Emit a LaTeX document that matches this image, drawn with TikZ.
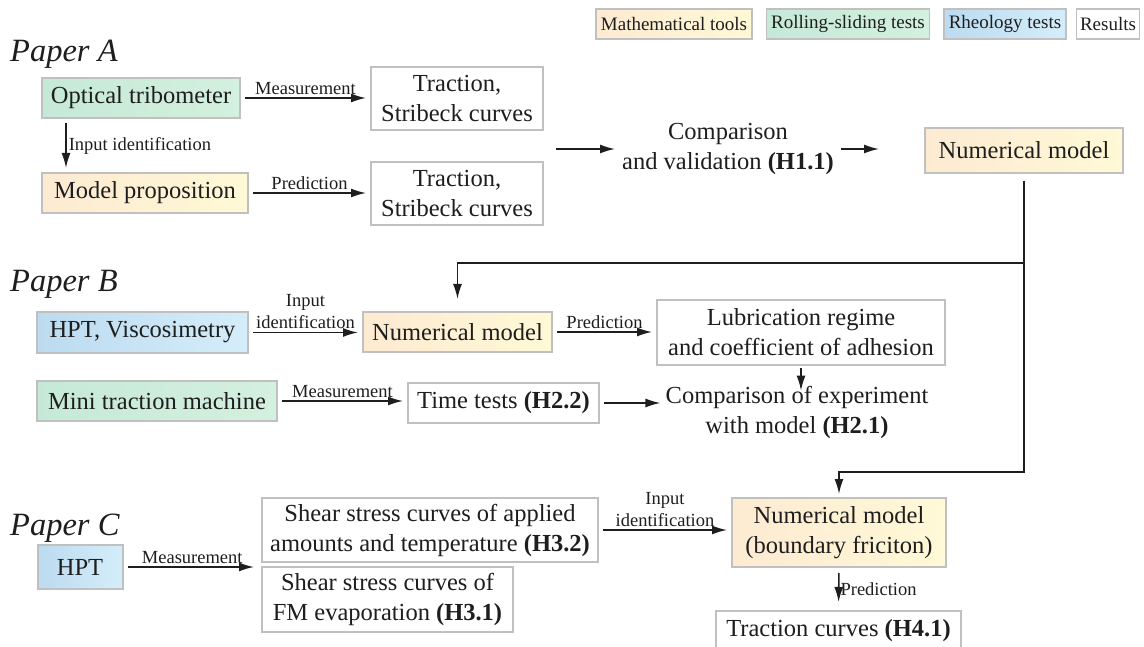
\documentclass[tikz,border=0pt]{standalone}
\usepackage{fontspec}
\setmainfont{Liberation Serif}
\usepackage{tikz}
\usetikzlibrary{arrows.meta,calc}
\usepackage{xcolor}
\definecolor{mathL}{RGB}{253,234,210}
\definecolor{mathR}{RGB}{255,249,214}
\definecolor{rollL}{RGB}{198,233,215}
\definecolor{rollR}{RGB}{212,240,222}
\definecolor{rheoL}{RGB}{188,219,240}
\definecolor{rheoR}{RGB}{212,237,249}
\definecolor{edgegrey}{RGB}{192,192,192}
\definecolor{ink}{RGB}{30,30,30}
\newcommand{\bxfont}{\fontsize{24.5}{30}\selectfont}
\newcommand{\lbfont}{\fontsize{18.5}{22}\selectfont}
\newcommand{\lgfont}{\fontsize{19}{22}\selectfont}
\newcommand{\ppfont}{\fontsize{32.5}{36}\selectfont\itshape}

\begin{document}
\begin{tikzpicture}[
  x=1pt,y=-1pt,
  box/.style={rectangle,draw=edgegrey,line width=2pt,text=ink,font=\bxfont,align=center,inner sep=0pt},
  mathbox/.style={box,left color=mathL,right color=mathR},
  rollbox/.style={box,left color=rollL,right color=rollR},
  rheobox/.style={box,left color=rheoL,right color=rheoR},
  resbox/.style={box,fill=white},
  keybox/.style={font=\lgfont,line width=1.6pt,minimum height=30pt},
  plain/.style={text=ink,font=\bxfont,align=center,inner sep=3pt},
  lab/.style={text=ink,font=\lbfont,align=center,inner sep=3pt},
  paper/.style={text=ink,font=\ppfont,anchor=base west,inner sep=0pt},
  arr/.style={draw=ink,line width=1.6pt,-{Latex[length=15pt,width=9pt]},shorten <=4pt,shorten >=4pt}
]
\useasboundingbox (0,0) rectangle (1144,647);

\node[mathbox,keybox,minimum width=156pt] (kmath) at (674,24) {Mathematical tools};
\node[rollbox,keybox,minimum width=163pt] (kroll) at (848,24) {Rolling-sliding tests};
\node[rheobox,keybox,minimum width=122pt] (krheo) at (1005,24) {Rheology tests};
\node[resbox,keybox,minimum width=63pt] (kres) at (1108,24) {Results};

\node[paper] (pA) at (10,62) {Paper A};
\node[rollbox,minimum width=198pt,minimum height=40pt] (opt) at (141,98) {Optical tribometer};
\node[mathbox,minimum width=206pt,minimum height=40pt] (model) at (145,193) {Model proposition};
\node[resbox,minimum width=172pt,minimum height=63pt] (tracA1) at (457,98.5) {Traction,\\Stribeck curves};
\node[resbox,minimum width=172pt,minimum height=63pt] (tracA2) at (457,193.5) {Traction,\\Stribeck curves};
\node[plain] (compA) at (728,149) {Comparison\\and validation \textbf{(H1.1)}};
\node[mathbox,minimum width=198pt,minimum height=45pt] (numA) at (1024,150.5) {Numerical model};
\coordinate (cmpin) at (556,149);
\coordinate (fbB) at (1025,263);
\coordinate (fbC) at (1025,472);

\draw[arr] (opt.east) -- (opt.east -| tracA1.west) node[lab,midway,above] {Measurement};
\draw[arr] (model.east) -- (model.east -| tracA2.west) node[lab,midway,above] {Prediction};
\draw[arr] ([xshift=25pt]opt.south west) -- ([xshift=25pt]model.north west) node[lab,midway,right,inner sep=2pt] {Input identification};
\draw[arr,shorten <=0pt] (cmpin) -- (compA.west);
\draw[arr,shorten >=45pt] (compA.east) -- (compA.east -| numA.west);

\node[paper] (pB) at (10,292) {Paper B};
\node[rheobox,minimum width=211pt,minimum height=41pt] (hptv) at (142.5,332.5) {HPT, Viscosimetry};
\node[mathbox,minimum width=189pt,minimum height=40pt] (numB) at (457.5,332) {Numerical model};
\node[resbox,minimum width=288pt,minimum height=65pt] (lubr) at (801,332.5) {Lubrication regime\\and coefficient of adhesion};
\node[rollbox,minimum width=240pt,minimum height=40pt] (mtm) at (157,401) {Mini traction machine};
\node[resbox,minimum width=191pt,minimum height=40pt] (timet) at (503.5,403) {Time tests \textbf{(H2.2)}};
\node[plain,inner sep=1pt] (compB) at (797,412) {Comparison of experiment\\with model \textbf{(H2.1)}};

\draw[arr] (hptv.east) -- (hptv.east -| numB.west) node[lab,midway,above] {Input\\identification};
\draw[arr] (numB.east) -- (numB.east -| lubr.west) node[lab,midway,above] {Prediction};
\draw[arr] (mtm.east) -- (mtm.east -| timet.west) node[lab,midway,above] {Measurement};
\draw[arr] (timet.east) -- (timet.east -| compB.west);
\draw[arr,shorten <=2pt,shorten >=0pt] (lubr.south) -- ([yshift=-6pt]lubr.south |- compB.north);

\node[paper] (pC) at (10,535) {Paper C};
\node[rheobox,minimum width=85pt,minimum height=44pt] (hptC) at (80,567) {HPT};
\node[resbox,minimum width=336pt,minimum height=64pt] (shear1) at (430,530) {Shear stress curves of applied\\amounts and temperature \textbf{(H3.2)}};
\node[resbox,minimum width=251pt,minimum height=65pt] (shear2) at (387.5,599.5) {Shear stress curves of\\FM evaporation \textbf{(H3.1)}};
\node[mathbox,minimum width=214pt,minimum height=69pt] (numC) at (839,532.5) {Numerical model\\(boundary friciton)};
\node[resbox,minimum width=245pt,minimum height=40pt] (tracC) at (838.5,631) {Traction curves \textbf{(H4.1)}};

\draw[arr,shorten >=7pt] (hptC.east) -- (hptC.east -| shear1.west) node[lab,midway,above] {Measurement};
\draw[arr] (shear1.east) -- (shear1.east -| numC.west) node[lab,midway,above] {Input\\identification};
\draw[arr,shorten <=5pt,shorten >=8pt] (numC.south) -- (tracC.north) node[lab,midway,right,inner sep=1pt] {Prediction};

\draw[arr,shorten <=7pt,shorten >=3pt] (numA.south) -- (numA.south |- fbC) -| (numC.north);
\draw[arr,shorten <=0pt,shorten >=12pt] (numA.south |- fbB) -| (numB.north);

\end{tikzpicture}
\end{document}
